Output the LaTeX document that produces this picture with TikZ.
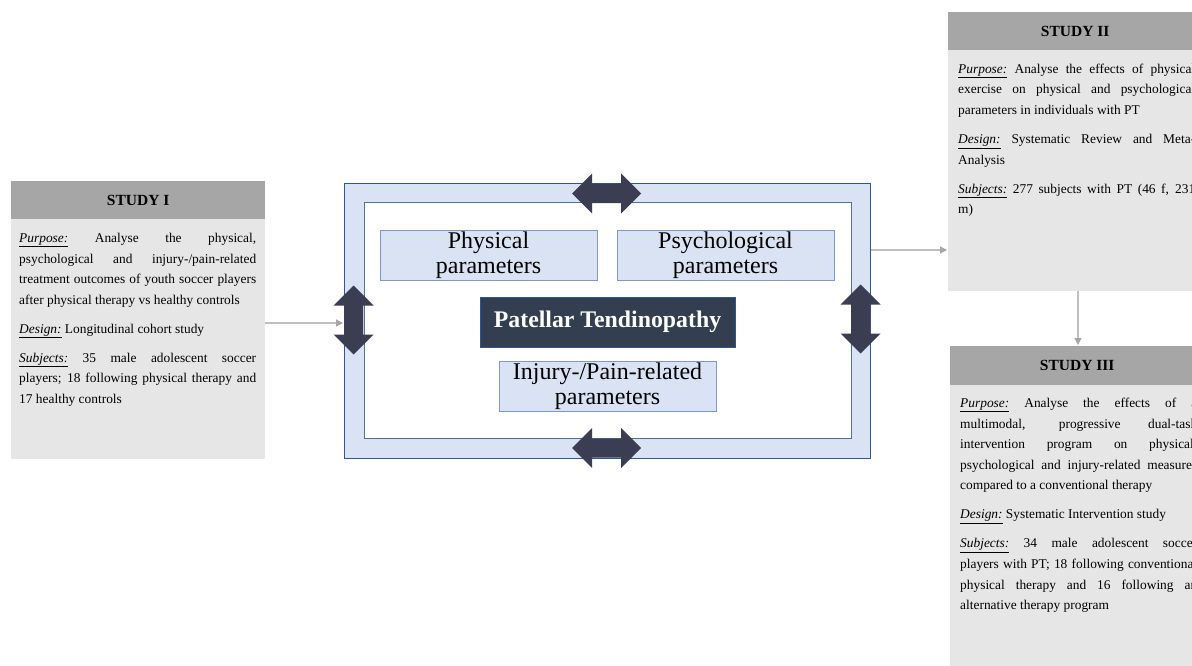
\documentclass[tikz,border=0pt]{standalone}
\usepackage{fontspec}
\setmainfont{Liberation Serif}
\usetikzlibrary{arrows.meta}

\definecolor{hdrgray}{HTML}{A6A6A6}
\definecolor{bodygray}{HTML}{E7E6E6}
\definecolor{paleblue}{HTML}{DAE3F3}
\definecolor{frameblue}{HTML}{2F5597}
\definecolor{boxblue}{HTML}{7F96CF}
\definecolor{navy}{HTML}{333F50}
\definecolor{arrowdark}{HTML}{3B3D52}
\definecolor{linkgray}{HTML}{BFBFBF}
\definecolor{tipgray}{HTML}{A6A6A6}

% one justified line of a study description (font's own stretchable spaces)
\newcommand\jl[1]{{\spaceskip=0pt\xspaceskip=0pt\makebox[237pt][s]{#1}}}
% a line set with the font's natural spaces
\newcommand\nl[1]{{\spaceskip=0pt\xspaceskip=0pt #1}}
% italic, underlined field label
\newcommand\lab[1]{\underline{\textit{#1}}}
% double-headed block arrow centred at (#1,#2), turned by #3 degrees
\newcommand\dblarrow[3]{%
  \fill[arrowdark, shift={(#1,#2)}, rotate=#3]
    (-34.5,0) -- (-14.5,-20) -- (-14.5,-9.5) -- (14.5,-9.5) -- (14.5,-20)
    -- (34.5,0) -- (14.5,20) -- (14.5,9.5) -- (-14.5,9.5) -- (-14.5,20) -- cycle;}

\begin{document}
\begin{tikzpicture}[x=1pt,y=-1pt,
  studybody/.style={fill=bodygray, inner sep=0pt, anchor=north west, minimum width=254pt},
  studyhead/.style={fill=hdrgray, inner sep=0pt, anchor=north west, minimum width=254pt,
    minimum height=38pt, font=\fontsize{15.5}{18}\selectfont\bfseries},
  studytext/.style={inner sep=0pt, anchor=base west, text width=237pt, align=left,
    font=\fontsize{13.4}{20.6}\selectfont},
  parambox/.style={fill=paleblue, draw=boxblue, line width=0.9pt, inner sep=0pt,
    minimum width=217pt, minimum height=50pt, align=center,
    font=\fontsize{24}{24.5}\selectfont},
  corebox/.style={fill=navy, draw=frameblue, line width=0.7pt, inner sep=0pt,
    minimum width=255pt, minimum height=50pt, text=white,
    font=\fontsize{23.8}{26}\selectfont\bfseries},
  link/.style={draw=linkgray, line width=1.3pt, shorten >=1pt,
    -{Triangle[length=7pt,width=7pt,color=tipgray]}}
]
\useasboundingbox (0,0) rectangle (1192,666);
\clip (0,0) rectangle (1192,666);

% ---------- Study I ----------
\node[studybody, minimum height=278pt] (s1) at (11,181) {};
\node[studyhead] (s1h) at (s1.north west) {STUDY I};
\node[studytext] (s1t) at ([shift={(8,23)}]s1h.south west) {%
\jl{\lab{Purpose:} Analyse the physical,}\\
\jl{psychological and injury-/pain-related}\\
\jl{treatment outcomes of youth soccer players}\\
\nl{after physical therapy vs healthy controls}\\[8.4pt]
\nl{\lab{Design:} Longitudinal cohort study}\\[8.4pt]
\jl{\lab{Subjects:} 35 male adolescent soccer}\\
\jl{players; 18 following physical therapy and}\\
\nl{17 healthy controls}};

% ---------- Study II ----------
\node[studybody, minimum height=279pt] (s2) at (948,12) {};
\node[studyhead] (s2h) at (s2.north west) {STUDY II};
\node[studytext] (s2t) at ([shift={(10,23)}]s2h.south west) {%
\jl{\lab{Purpose:} Analyse the effects of physical}\\
\jl{exercise on physical and psychological}\\
\nl{parameters in individuals with PT}\\[8.4pt]
\jl{\lab{Design:} Systematic Review and Meta-}\\
\nl{Analysis}\\[8.4pt]
\jl{\lab{Subjects:} 277 subjects with PT (46 f, 231}\\
\nl{m)}};

% ---------- Study III ----------
\node[studybody, minimum height=340pt] (s3) at (950,346) {};
\node[studyhead, minimum height=39pt] (s3h) at (s3.north west) {STUDY III};
\node[studytext] (s3t) at ([shift={(10,22)}]s3h.south west) {%
\jl{\lab{Purpose:} Analyse the effects of a}\\
\jl{multimodal, progressive dual-task}\\
\jl{intervention program on physical,}\\
\jl{psychological and injury-related measures}\\
\nl{compared to a conventional therapy}\\[8.4pt]
\nl{\lab{Design:} Systematic Intervention study}\\[8.4pt]
\jl{\lab{Subjects:} 34 male adolescent soccer}\\
\jl{players with PT; 18 following conventional}\\
\jl{physical therapy and 16 following an}\\
\nl{alternative therapy program}};

% ---------- central frame ----------
\node[fill=paleblue, draw=frameblue, line width=1pt, inner sep=0pt,
  minimum width=526pt, minimum height=275pt, anchor=north west] (frame) at (344,183) {};
\node[fill=white, draw=frameblue!85!white, line width=0.9pt, inner sep=0pt,
  minimum width=487pt, minimum height=236pt, anchor=north west] (inner) at (364,202) {};

\node[parambox] (phys) at (488.5,255) {Physical\\parameters};
\node[parambox] (psych) at (725.5,255) {Psychological\\parameters};
\node[corebox] (core) at (607.5,322) {Patellar Tendinopathy};
\node[parambox] (injury) at (607.5,386) {Injury-/Pain-related\\parameters};

% block arrows on the frame
\dblarrow{606.5}{193.5}{0}
\dblarrow{606.5}{448}{0}
\dblarrow{353.5}{320}{90}
\dblarrow{860.5}{319}{90}

% ---------- connectors ----------
\coordinate (yA) at (0,323);
\coordinate (yB) at (0,250);
\coordinate (xC) at (1078,0);
\draw[link] (s1.east |- yA) -- (frame.west |- yA);
\draw[link] (frame.east |- yB) -- (s2.west |- yB);
\draw[link] (s2.south -| xC) -- (s3.north -| xC);
\end{tikzpicture}
\end{document}
